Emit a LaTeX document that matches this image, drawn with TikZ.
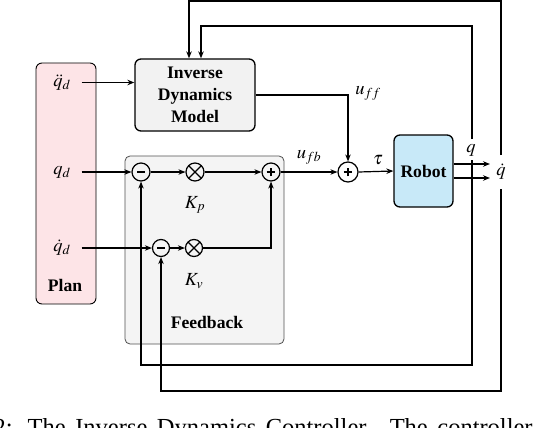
\documentclass[tikz,border=0pt]{standalone}
\usepackage{mathptmx}
\usepackage{fontspec}
\setmainfont{Liberation Serif}
\usetikzlibrary{arrows.meta}
\definecolor{planpink}{RGB}{253,228,231}
\definecolor{robotblue}{RGB}{200,233,248}
\definecolor{idmgray}{RGB}{242,242,242}
\definecolor{fbgray}{RGB}{244,244,244}
\definecolor{fbborder}{RGB}{80,80,80}
\begin{document}
\begin{tikzpicture}[x=1pt,y=-1pt,line width=1.2pt,
  >={Stealth[length=7pt,width=5.5pt]},
  lab/.style={font=\fontsize{18.5}{22}\selectfont,inner sep=0pt},
  planlab/.style={lab,minimum width=38pt},
  boldlab/.style={font=\fontsize{17.6}{22}\selectfont\bfseries,align=center,inner sep=0pt},
  blockbox/.style={draw,rounded corners=6pt,line width=1.3pt},
  opc/.style={circle,draw,inner sep=0pt,minimum size=18pt,line width=1.2pt},
  minusop/.style={opc,path picture={\draw[line width=1.1pt] ([xshift=-3.6pt]path picture bounding box.center) -- ([xshift=3.6pt]path picture bounding box.center);}},
  plusop/.style={opc,path picture={\draw[line width=1.1pt] ([xshift=-4.4pt]path picture bounding box.center) -- ([xshift=4.4pt]path picture bounding box.center) ([yshift=-4.4pt]path picture bounding box.center) -- ([yshift=4.4pt]path picture bounding box.center);}},
  timesop/.style={opc,path picture={\draw[line width=1.1pt] (path picture bounding box.north west) -- (path picture bounding box.south east) (path picture bounding box.north east) -- (path picture bounding box.south west);}}
]
\useasboundingbox (0,0) rectangle (536,428);

% blocks
\node[draw,line width=0.9pt,rounded corners=6pt,fill=planpink,minimum width=60pt,minimum height=241pt] (plan) at (66,183.5) {};
\node[draw=fbborder,line width=0.8pt,rounded corners=5pt,fill=fbgray,minimum width=159pt,minimum height=188pt] (fb) at (204.5,250) {};
\node[blockbox,fill=idmgray,minimum width=120pt,minimum height=72pt,boldlab] (idm) at (195,95) {Inverse\\Dynamics\\Model};
\node[blockbox,fill=robotblue,minimum width=59pt,minimum height=72pt,boldlab] (robot) at (423.5,171) {Robot};

% labels
\node[boldlab] (planlabel) at (65,285) {Plan};
\node[boldlab] (fblabel) at (207,322) {Feedback};
\node[planlab] (qdd) at (62,82.5) {$\ddot q_d$};
\node[planlab] (qd) at (62,172) {$q_d$};
\node[planlab] (qdt) at (62,248) {$\dot q_d$};
\node[lab] (kp) at (195,205) {$K_p$};
\node[lab] (kv) at (194,281) {$K_v$};

% operators
\node[minusop] (m1) at (141,172) {};
\node[timesop] (t1) at (195,172) {};
\node[plusop] (p1) at (271,172) {};
\node[minusop,minimum size=17pt] (m2) at (161,248) {};
\node[timesop,minimum size=17pt] (t2) at (194,248) {};
\node[plusop,minimum size=20pt] (sum) at (348,172) {};

\node[lab] (ufb) at (309,157) {$u_{fb}$};
\node[lab] (uff) at (368,93) {$u_{ff}$};
\node[lab] (tau) at (378,160) {$\tau$};
\node[lab] (qlab) at (471,150) {$q$};
\node[lab] (qdlab) at (501,172) {$\dot q$};

% connectors
\draw[->] (qdd.east) -- (qdd.east -| idm.west);
\draw[->] (qd.east) -- (m1.west);
\draw[->] (qdt.east) -- (m2.west);
\draw[->] (m1.east) -- (t1.west);
\draw[->] (t1.east) -- (p1.west);
\draw[->] (m2.east) -- (t2.west);
\draw[->] (t2.east) -| (p1.south);
\draw[->] (p1.east) -- (sum.west);
\draw[->] (sum.east) -- (robot.west);
\draw[->] (idm.east) -| (sum.north);

\coordinate (qend) at (490,164);
\coordinate (qdend) at (490,178);
\draw[->] (robot.east |- qend) -- (qend);
\draw[->] (robot.east |- qdend) -- (qdend);

\coordinate (qtop) at (472,139);
\coordinate (qbot) at (472,160);
\coordinate (qdtop) at (501,155);
\coordinate (qdbot) at (501,189);
\draw[->] (qtop) -- (472,26) -| ([xshift=6pt]idm.north);
\draw[->] (qdtop) -- (501,1) -| ([xshift=-6pt]idm.north);
\draw[->] (qbot) -- (472,365) -| (m1.south);
\draw[->] (qdbot) -- (501,391) -| (m2.south);

% caption (cut off by the frame)
\node[anchor=base west,inner sep=0pt,font=\fontsize{24.5}{28}\selectfont] (caption) at (-7,435) {\makebox[539pt][s]{2: The Inverse Dynamics Controller. The controller}};
\end{tikzpicture}
\end{document}
